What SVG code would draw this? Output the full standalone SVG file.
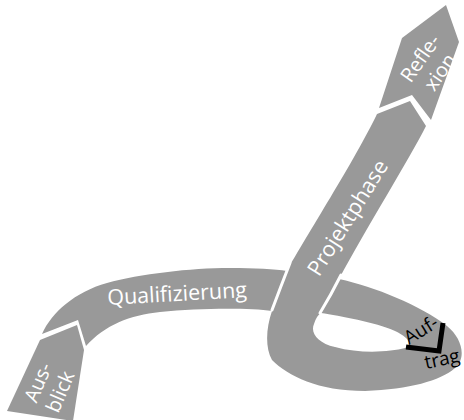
<svg xmlns="http://www.w3.org/2000/svg" width="464" height="420" viewBox="0 0 464 420">
<style>
.rib{fill:#999999;}
.lbl{font-family:"Open Sans","Liberation Sans",sans-serif;fill:#ffffff;text-anchor:middle;}
.blk{font-family:"Open Sans","Liberation Sans",sans-serif;fill:#000000;text-anchor:middle;}
.edge{fill:none;stroke:#ffffff;stroke-width:3;stroke-linecap:round;}
</style>
<rect width="464" height="420" fill="#ffffff"/>
<g id="ribbon">
<path class="rib" fill-rule="evenodd" d="M42,334 C52,312 75,292 107,283 C140,274 190,268 230,268 C255,268 275,269 287,271 C305,238 355,160 377,114 L410,101 L426,126 C410,158 365,230 339,279 C375,287 420,305 447,326 C462,338 467,358 455,368 C440,381 410,389 365,391 C318,391 288,376 272,360 C265,348 266,328 272,311 C250,308 200,308 160,312 C130,315 105,325 86,346 L78,320 Z M321,313 C340,316 375,322 395,331 C408,337 414,345 405,348 C390,352 360,354 335,347 C318,343 310,333 314,324 C316,318 318,315 321,313 Z"/>
</g>
<g id="connectors">
<path class="edge" d="M290,263 Q281,286 272,310"/>
<path class="edge" d="M341,275 Q331,295 320,313"/>
</g>
<g id="node-ausblick">
<polygon class="rib" points="40,340 77,325 84,350 73,421 7,411"/>
<g transform="translate(49,387) rotate(-67)">
<text class="lbl" font-size="20" x="0" y="-5">Aus-</text>
<text class="lbl" font-size="20" x="0" y="19">blick</text>
</g>
</g>
<g id="node-qualifizierung">
<text class="lbl" font-size="21.5" x="177.5" y="301" transform="rotate(-3.3 177.5 301)">Qualifizierung</text>
</g>
<g id="node-projektphase">
<text class="lbl" font-size="21.5" transform="translate(348,218) rotate(-58)" x="0" y="7">Projektphase</text>
</g>
<g id="node-reflexion">
<polygon class="rib" points="379,108 402,38 446,5 459,42 431,120 412,95"/>
<g transform="translate(430,65) rotate(-55)">
<text class="lbl" font-size="20" x="0" y="-5">Refle-</text>
<text class="lbl" font-size="20" x="0" y="19">xion</text>
</g>
</g>
<g id="node-auftrag">
<polyline points="406,347 439,351 443,323" fill="none" stroke="#000000" stroke-width="5" stroke-linejoin="miter"/>
<text class="blk" font-size="19" transform="translate(421,330) rotate(-32)" x="0" y="6.5">Auf-</text>
<text class="blk" font-size="19" transform="translate(442,359) rotate(-12)" x="0" y="6.5">trag</text>
</g>
</svg>
